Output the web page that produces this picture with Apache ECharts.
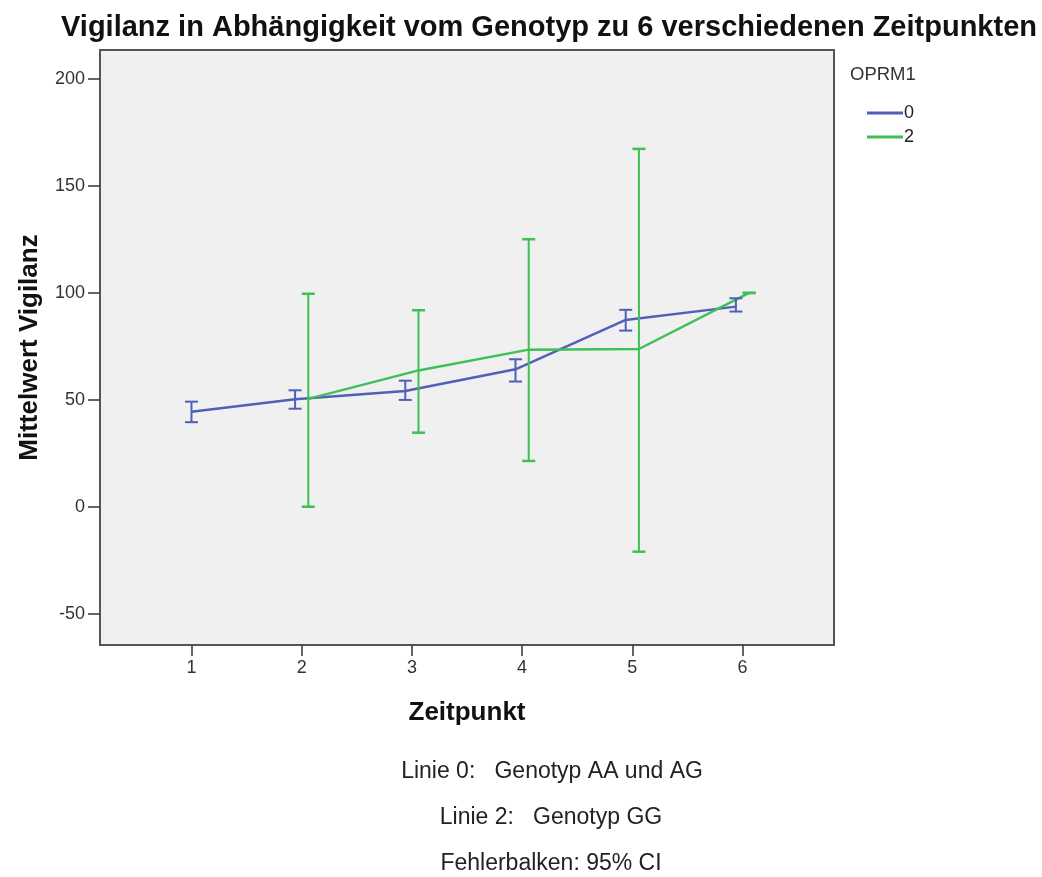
<!DOCTYPE html>
<html>
<head>
<meta charset="utf-8">
<script src="https://cdn.jsdelivr.net/npm/echarts@6/dist/echarts.min.js"></script>
<style>html,body{margin:0;padding:0;background:#fff;}#c{width:1042px;height:877px;}</style>
</head>
<body>
<div id="c"></div>
<script>
const timepoints = [1, 2, 3, 4, 5, 6];
const yTicks = [-50, 0, 50, 100, 150, 200];
// Group 0 (Genotyp AA und AG)
const g0Times = [1, 2, 3, 4, 5, 6];
const g0Mean  = [44.5, 50.3, 54.2, 64.3, 87.4, 93.6];
const g0Low   = [39.6, 45.9, 50.0, 58.6, 82.4, 91.3];
const g0High  = [49.2, 54.5, 59.0, 69.0, 92.1, 97.5];
// Group 2 (Genotyp GG)
const g2Times = [2, 3, 4, 5, 6];
const g2Mean  = [50.5, 63.8, 73.5, 73.8, 100.0];
const g2Low   = [0.1, 34.7, 21.5, -20.9, 100.0];
const g2High  = [99.6, 91.9, 125.1, 167.3, 100.0];

const dodge = 0.06;
const blue = '#5060b8';
const green = '#3ec055';
const font = '"Liberation Sans", Arial, sans-serif';

const g0X = g0Times.map(t => g2Times.includes(t) ? t - dodge : t);
const g2X = g2Times.map(t => t + dodge);

function errData(xs, lo, hi) { return xs.map((x, i) => [x, lo[i], hi[i]]); }

function errRender(color, capHalf, capWidth) {
  return function (params, api) {
    const x = api.value(0);
    const lo = api.coord([x, api.value(1)]);
    const hi = api.coord([x, api.value(2)]);
    const st = { stroke: color, lineWidth: 2 };
    const cs = { stroke: color, lineWidth: capWidth };
    return {
      type: 'group',
      children: [
        { type: 'line', shape: { x1: lo[0], y1: lo[1], x2: hi[0], y2: hi[1] }, style: st },
        { type: 'line', shape: { x1: lo[0] - capHalf, y1: lo[1], x2: lo[0] + capHalf, y2: lo[1] }, style: cs },
        { type: 'line', shape: { x1: hi[0] - capHalf, y1: hi[1], x2: hi[0] + capHalf, y2: hi[1] }, style: cs }
      ]
    };
  };
}

const chart = echarts.init(document.getElementById('c'));
chart.setOption({
  animation: false,
  backgroundColor: '#fff',
  grid: {
    left: 100, top: 50, width: 734, height: 595,
    show: true, backgroundColor: '#f0f0f0', borderColor: '#555', borderWidth: 2
  },
  legend: {
    orient: 'vertical', left: 862, top: 99, itemGap: 6,
    itemWidth: 36, itemHeight: 3, icon: 'rect',
    textStyle: { fontFamily: font, fontSize: 18, color: '#222', padding: [0, 0, 0, -4] },
    data: [{ name: '0' }, { name: '2' }]
  },
  xAxis: {
    type: 'value', min: 0.17, max: 6.83,
    name: 'Zeitpunkt', nameLocation: 'middle', nameGap: 55,
    nameTextStyle: { fontFamily: font, fontSize: 26, fontWeight: 'bold', color: '#111' },
    splitLine: { show: false },
    axisLine: { show: false, onZero: false },
    axisTick: { show: true, length: 11, customValues: timepoints, lineStyle: { color: '#333', width: 1.5 } },
    axisLabel: { customValues: timepoints, margin: 14, fontFamily: font, fontSize: 18, color: '#333' }
  },
  yAxis: {
    type: 'value', min: -64.5, max: 213.5,
    name: 'Mittelwert Vigilanz', nameLocation: 'middle', nameGap: 57, nameRotate: 90,
    nameTextStyle: { fontFamily: font, fontSize: 26, fontWeight: 'bold', color: '#111' },
    splitLine: { show: false },
    axisLine: { show: false, onZero: false },
    axisTick: { show: true, length: 12, customValues: yTicks, lineStyle: { color: '#333', width: 1.5 } },
    axisLabel: { customValues: yTicks, margin: 15, fontFamily: font, fontSize: 18, color: '#333' }
  },
  graphic: [
    { type: 'text', x: 549, y: 28, style: { text: 'Vigilanz in Abhängigkeit vom Genotyp zu 6 verschiedenen Zeitpunkten', fontFamily: font, fontSize: 29, fontWeight: 'bold', fill: '#111', textAlign: 'center', textVerticalAlign: 'middle' } },
    { type: 'text', x: 850, y: 75, style: { text: 'OPRM1', fontFamily: font, fontSize: 18.5, fill: '#333', textVerticalAlign: 'middle' } },
    { type: 'text', x: 552, y: 772, style: { text: 'Linie 0:   Genotyp AA und AG', fontFamily: font, fontSize: 23, fill: '#222', textAlign: 'center', textVerticalAlign: 'middle' } },
    { type: 'text', x: 551, y: 818, style: { text: 'Linie 2:   Genotyp GG', fontFamily: font, fontSize: 23, fill: '#222', textAlign: 'center', textVerticalAlign: 'middle' } },
    { type: 'text', x: 551, y: 864, style: { text: 'Fehlerbalken: 95% CI', fontFamily: font, fontSize: 23, fill: '#222', textAlign: 'center', textVerticalAlign: 'middle' } }
  ],
  series: [
    {
      name: '0', type: 'line', symbol: 'none', color: blue,
      lineStyle: { width: 2.5, color: blue }, z: 3,
      data: g0X.map((x, i) => [x, g0Mean[i]])
    },
    {
      name: '2', type: 'line', symbol: 'none', color: green,
      lineStyle: { width: 2.5, color: green }, z: 3,
      data: g2X.map((x, i) => [x, g2Mean[i]])
    },
    {
      name: 'err0', type: 'custom', renderItem: errRender(blue, 6.5, 2), z: 4,
      data: errData(g0X, g0Low, g0High), encode: { x: 0, y: [1, 2] }
    },
    {
      name: 'err2', type: 'custom', renderItem: errRender(green, 6.5, 2.5), z: 4,
      data: errData(g2X, g2Low, g2High), encode: { x: 0, y: [1, 2] }
    }
  ]
});
</script>
</body>
</html>
